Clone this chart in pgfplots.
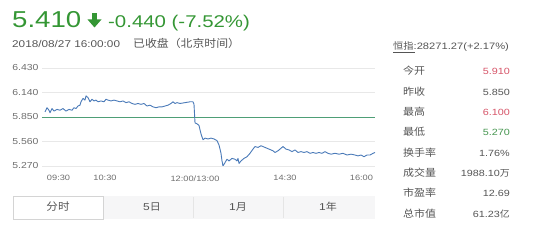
\documentclass[border=0pt]{standalone}
\usepackage{fontspec}
\setmainfont{Liberation Sans}[FakeStretch=1.2]
\newfontfamily\cjk{Noto Sans CJK SC}[FakeStretch=1.1]
\usepackage{pgfplots}
\pgfplotsset{compat=1.18}

\definecolor{downgreen}{RGB}{52,150,52}
\definecolor{upred}{RGB}{214,84,104}
\definecolor{lowgreen}{RGB}{70,150,80}
\definecolor{priceblue}{RGB}{74,122,184}
\definecolor{closeline}{RGB}{78,158,118}
\definecolor{gridgray}{RGB}{232,232,232}
\definecolor{labgray}{RGB}{110,110,110}
\definecolor{txtgray}{RGB}{85,85,85}
\definecolor{tabfill}{RGB}{246,246,247}
\definecolor{tabline}{RGB}{212,212,212}

\newcommand{\fs}[1]{\fontsize{#1bp}{#1bp}\selectfont}

% intraday price, minutes after 09:30 (lunch break removed)
\pgfplotstableread{
t p
0 5.91
2 5.96
4 5.93
5 5.90
7 5.95
9 5.92
12 5.94
15 5.93
18 5.95
21 5.92
24 5.94
27 5.93
29 5.96
31 5.95
33 5.98
35 5.99
36 6.03
38 6.07
40 6.05
41 6.10
43 6.08
45 6.03
47 6.06
49 6.04
51 6.05
53 6.03
56 6.04
59 6.03
61 6.06
63 6.05
66 6.04
69 6.05
72 6.04
75 6.03
78 6.04
81 6.02
84 6.03
87 6.01
90 6.00
93 6.01
96 6.00
99 6.01
102 5.98
105 5.99
108 5.97
111 5.96
114 5.97
117 5.97
120 5.98
123 5.99
126 6.01
128 6.03
130 6.01
132 6.02
135 6.01
140 6.02
145 6.03
148 6.03
149 6.00
150 5.78
152 5.77
154 5.75
156 5.65
158 5.58
160 5.60
163 5.59
166 5.60
169 5.59
172 5.57
174 5.52
176 5.42
177 5.33
178 5.27
180 5.31
182 5.35
184 5.33
187 5.36
190 5.35
192 5.33
193 5.36
194 5.30
196 5.33
199 5.36
202 5.38
205 5.42
208 5.47
210 5.50
213 5.49
216 5.51
220 5.49
224 5.47
228 5.45
230 5.43
233 5.45
236 5.48
238 5.50
241 5.47
244 5.46
247 5.44
250 5.46
253 5.43
256 5.44
259 5.43
262 5.44
265 5.42
268 5.43
271 5.42
274 5.43
277 5.42
280 5.44
283 5.42
286 5.41
290 5.42
294 5.41
298 5.42
302 5.40
306 5.41
310 5.40
313 5.39
316 5.40
319 5.38
322 5.40
325 5.40
328 5.42
330 5.43
}\intraday

\begin{document}
\begin{tikzpicture}
\useasboundingbox (0,0) rectangle (540bp,242bp);
\begin{axis}[
  at={(42bp,76bp)}, anchor=south west,
  scale only axis, width=333bp, height=98bp,
  xmin=-3, xmax=330, ymin=5.27, ymax=6.43,
  axis line style={draw=none}, tick style={draw=none},
  ytick={5.27,5.56,5.85,6.14,6.43},
  xtick={0,60,150,240,330},
  xticklabels={\makebox[0pt][l]{\hspace{2bp}09:30},10:30,12:00/13:00,14:30,\makebox[0pt][r]{16:00\hspace{2bp}}},
  ymajorgrids, grid style={draw=gridgray, line width=0.6bp},
  /pgf/number format/assume math mode=true,
  yticklabel style={font=\fs{8.7}, text=labgray, /pgf/number format/.cd, fixed, fixed zerofill, precision=3},
  xticklabel style={font=\fs{7.7}, text=labgray, yshift=-6bp},
]
\addplot[closeline, line width=0.8bp] coordinates {(-3,5.85) (330,5.85)};
\addplot[priceblue, line width=0.9bp, line join=round] table[x=t, y=p] {\intraday};
\end{axis}

\begin{scope}[x=1bp, y=-1bp, shift={(0,242bp)}]
  % quote header
  \node[anchor=base west, inner sep=0, text=downgreen, font=\fs{23}] at (12,28) {5.410};
  \fill[downgreen] (91.8,13) rectangle (97.2,20.5);
  \fill[downgreen] (87.5,19.5) -- (101.5,19.5) -- (94.5,27.5) -- cycle;
  \node[anchor=base west, inner sep=0, text=downgreen, font=\fs{17}] at (108,28) {-0.440 (-7.52\%)};
  \node[anchor=base west, inner sep=0, text=txtgray, font=\fs{9.8}] at (12,48) {2018/08/27 16:00:00};
  \node[anchor=base west, inner sep=0, text=txtgray, font=\cjk\fs{10.8}] at (133,48) {已收盘（北京时间）};

  % index line
  \node[anchor=base west, inner sep=0, text=txtgray, font=\fs{9.3}] at (393,50) {{\cjk 恒指}:28271.27(+2.17\%)};
  \draw[txtgray, line width=0.5bp] (393,52) -- (414.5,52);

  % quote table
  \foreach \lab/\val/\col [count=\i from 0] in {今开/5.910/upred, 昨收/5.850/txtgray, 最高/6.100/upred, 最低/5.270/lowgreen, 换手率/1.76\%/txtgray, 成交量/1988.10{\cjk 万}/txtgray, 市盈率/12.69/txtgray, 总市值/61.23{\cjk 亿}/txtgray} {
    \node[anchor=base west, inner sep=0, text=txtgray, font=\cjk\fs{10}] at (403,75+20.3*\i) {\lab};
    \node[anchor=base east, inner sep=0, text=\col, font=\fs{9}] at (510,75+20.3*\i) {\val};
  }

  % period tabs
  \fill[tabfill] (103,196) rectangle (375,219);
  \draw[tabline!60, line width=0.5bp] (193,197) -- (193,218) (283,197) -- (283,218);
  \draw[tabline, fill=white, line width=0.6bp] (13,196) rectangle (103,219);
  \node[anchor=base, inner sep=0, text=txtgray, font=\cjk\fs{10.5}] at (58,211) {分时};
  \node[anchor=base, inner sep=0, text=txtgray, font=\fs{10}] at (152,211) {5{\cjk 日}};
  \node[anchor=base, inner sep=0, text=txtgray, font=\fs{10}] at (238,211) {1{\cjk 月}};
  \node[anchor=base, inner sep=0, text=txtgray, font=\fs{10}] at (328,211) {1{\cjk 年}};
\end{scope}
\end{tikzpicture}
\end{document}
